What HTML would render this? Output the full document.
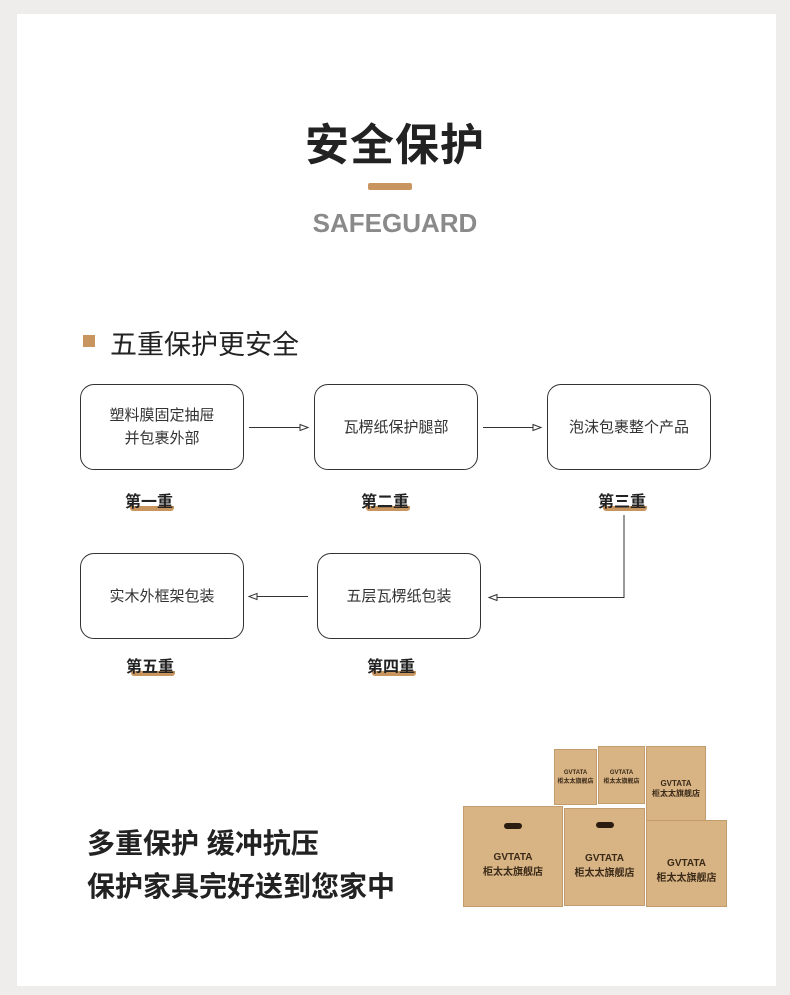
<!DOCTYPE html>
<html><head><meta charset="utf-8"><style>
*{margin:0;padding:0;box-sizing:border-box}
body{width:790px;height:995px;background:#eeedeb;position:relative;overflow:hidden;font-family:"Liberation Sans","Noto Sans CJK SC",sans-serif;color:#222}
.page{position:absolute;left:17px;top:14px;width:759px;height:972px;background:#fff}
.a{position:absolute}
.node{position:absolute;border:1.3px solid #333;border-radius:14px;background:#fff;display:flex;align-items:center;justify-content:center;text-align:center;font-size:15px;line-height:23px;color:#333}
.lab{position:absolute;font-size:16px;font-weight:bold;color:#222;width:80px;text-align:center}
.lab i{position:absolute;left:21px;top:18px;width:44px;height:5px;background:#c8955f;border-radius:0 0 3px 3px;z-index:0}
.lab span{position:relative;z-index:1}
.box{position:absolute;background:#d8b384;border:1px solid #c29c6c;text-align:center;color:#3a2a18;font-weight:bold}
</style></head><body>
<div class="page"></div>
<div class="a" style="left:0;width:790px;top:109px;text-align:center;font-size:44px;font-weight:bold;color:#222;letter-spacing:1px">安全保护</div>
<div class="a" style="left:368px;top:183px;width:44px;height:7px;background:#c8955f;border-radius:2px"></div>
<div class="a" style="left:0;width:790px;top:208px;text-align:center;font-size:26px;font-weight:bold;color:#8a8a8a">SAFEGUARD</div>
<div class="a" style="left:83px;top:335px;width:12px;height:12px;background:#c8955f"></div>
<div class="a" style="left:110px;top:323px;font-size:27px;color:#222">五重保护更安全</div>

<div class="node" style="left:80px;top:384px;width:164px;height:86px">塑料膜固定抽屉<br>并包裹外部</div>
<div class="node" style="left:314px;top:384px;width:164px;height:86px">瓦楞纸保护腿部</div>
<div class="node" style="left:547px;top:384px;width:164px;height:86px">泡沫包裹整个产品</div>
<div class="node" style="left:80px;top:553px;width:164px;height:86px">实木外框架包装</div>
<div class="node" style="left:317px;top:553px;width:164px;height:86px">五层瓦楞纸包装</div>

<svg class="a" style="left:0;top:0" width="790" height="995">
<g stroke="#333" stroke-width="1" fill="#fff">
<line x1="249" y1="427.5" x2="300" y2="427.5"/><path d="M300 424.5 L308 427.5 L300 430.5Z"/>
<line x1="483" y1="427.5" x2="533" y2="427.5"/><path d="M533 424.5 L541 427.5 L533 430.5Z"/>
<polyline points="624,515 624,597.5 497,597.5" fill="none"/><path d="M497 594.5 L489 597.5 L497 600.5Z"/>
<line x1="308" y1="596.5" x2="257" y2="596.5"/><path d="M257 593.5 L249 596.5 L257 599.5Z"/>
</g></svg>

<div class="lab" style="left:109px;top:488px"><i></i><span>第一重</span></div>
<div class="lab" style="left:345px;top:488px"><i></i><span>第二重</span></div>
<div class="lab" style="left:582px;top:488px"><i></i><span>第三重</span></div>
<div class="lab" style="left:110px;top:653px"><i></i><span>第五重</span></div>
<div class="lab" style="left:351px;top:653px"><i></i><span>第四重</span></div>

<div class="a" style="left:87px;top:822px;font-size:28px;font-weight:bold;color:#222">多重保护 缓冲抗压</div>
<div class="a" style="left:87px;top:865px;font-size:28px;font-weight:bold;color:#222">保护家具完好送到您家中</div>

<div class="box" style="left:554px;top:749px;width:43px;height:56px;font-size:6px;padding-top:20px">GVTATA<br>柜太太旗舰店</div>
<div class="box" style="left:598px;top:746px;width:47px;height:58px;font-size:6px;padding-top:23px">GVTATA<br>柜太太旗舰店</div>
<div class="box" style="left:646px;top:746px;width:60px;height:76px;font-size:8px;padding-top:32px">GVTATA<br>柜太太旗舰店</div>
<div class="box" style="left:463px;top:806px;width:100px;height:101px;font-size:10px;padding-top:45px">GVTATA<br>柜太太旗舰店</div>
<div class="box" style="left:564px;top:808px;width:81px;height:98px;font-size:10px;padding-top:44px">GVTATA<br>柜太太旗舰店</div>
<div class="box" style="left:646px;top:820px;width:81px;height:87px;font-size:10px;padding-top:37px">GVTATA<br>柜太太旗舰店</div>
<div class="a" style="left:504px;top:823px;width:18px;height:6px;background:#2a1c10;border-radius:3px"></div>
<div class="a" style="left:596px;top:822px;width:18px;height:6px;background:#2a1c10;border-radius:3px"></div>
</body></html>
